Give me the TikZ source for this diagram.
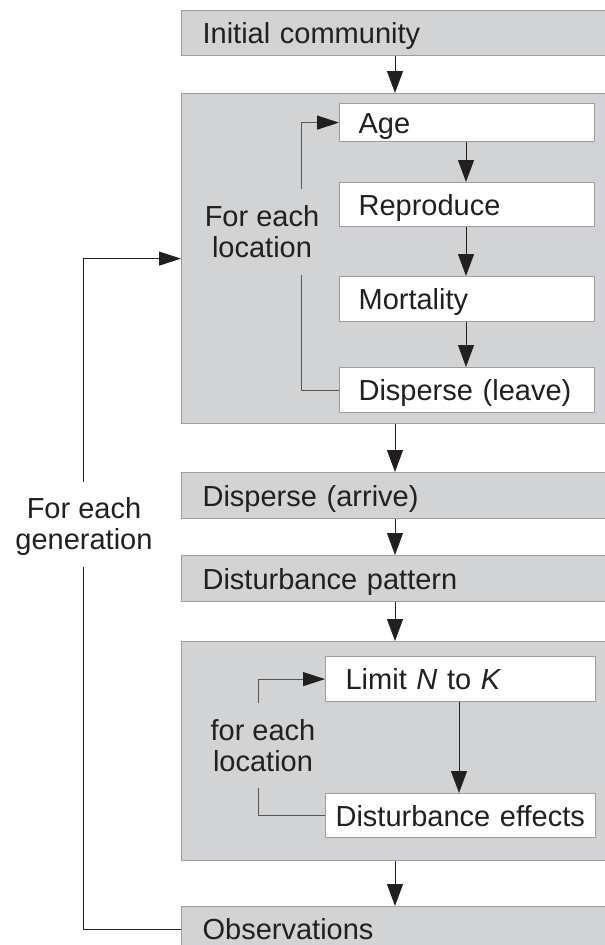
\documentclass[tikz,border=0pt]{standalone}
\usepackage{fontspec}
\setmainfont{Liberation Sans}
\usetikzlibrary{arrows.meta}
\definecolor{boxgray}{RGB}{209,211,212}
\definecolor{boxline}{RGB}{155,157,160}
\definecolor{lineink}{RGB}{35,31,32}
\definecolor{loopink}{RGB}{85,85,85}
\begin{document}
\begin{tikzpicture}[x=1pt,y=-1pt,font=\fontsize{29}{31}\selectfont,
  gbox/.style={draw=boxline, fill=boxgray, line width=1.2pt, anchor=north west, minimum height=45pt,
    text height=21pt, text depth=0pt, inner ysep=0pt, inner xsep=21pt, text width=398pt, align=left, text=lineink},
  wbox/.style={draw=boxline, fill=white, line width=1.2pt, anchor=north west, minimum height=45pt,
    text height=21pt, text depth=0pt, inner ysep=0pt, inner xsep=19pt, text width=217pt, align=left, text=lineink},
  bigbox/.style={draw=boxline, fill=boxgray, line width=1.2pt, anchor=north west, minimum width=440pt, inner sep=0pt},
  arr/.style={-{Triangle[length=22pt,width=16pt]}, line width=1pt, draw=lineink},
  looparr/.style={-{Triangle[length=22pt,width=14pt,color=lineink]}, line width=1pt, draw=loopink},
  loopline/.style={line width=1pt, draw=loopink},
  outerline/.style={line width=1pt, draw=lineink},
  outerarr/.style={-{Triangle[length=22pt,width=14pt]}, line width=1pt, draw=lineink},
  lbl/.style={align=center, inner sep=0pt, text=lineink}
]
\useasboundingbox (0,0) rectangle (605,945);
\clip (0,0) rectangle (605,945);
\fill[white] (0,0) rectangle (605,945);

% outer boxes
\node[gbox] (ic) at (181,10) {Initial community};
\node[bigbox, minimum height=330pt] (big1) at (181,93) {};
\node[gbox, minimum height=46pt] (da) at (181,472) {Disperse (arrive)};
\node[gbox, minimum height=46pt] (dp) at (181,555) {Disturbance pattern};
\node[bigbox, minimum height=219pt] (big2) at (181,641) {};
\node[gbox] (obs) at (181,906) {Observations};

% inner boxes, first block
\node[wbox, minimum height=38pt] (age) at (339,103) {Age};
\node[wbox, minimum height=44pt] (rep) at (339,182) {Reproduce};
\node[wbox] (mort) at (339,276) {Mortality};
\node[wbox] (dl) at (339,367) {Disperse (leave)};

% inner boxes, second block
\node[wbox, inner xsep=20pt, text width=230pt] (lim) at (325,656) {Limit \textit{N} to \textit{K}};
\node[wbox, minimum height=44pt, inner xsep=10pt, text width=250pt] (de) at (325,793) {Disturbance effects};

% labels
\node[lbl] (loc1) at (262,232) {For each\\location};
\node[lbl] (loc2) at (263,746) {for each\\location};
\node[lbl] (gen) at (84,526) {For each\\generation};

% main flow
\coordinate (cx) at (395,0);
\draw[arr] (cx |- ic.south) -- (cx |- big1.north);
\draw[arr] (cx |- big1.south) -- (cx |- da.north);
\draw[arr] (cx |- da.south) -- (cx |- dp.north);
\draw[arr] (cx |- dp.south) -- (cx |- big2.north);
\draw[arr] (cx |- big2.south) -- (cx |- obs.north);

% first inner chain
\coordinate (ix) at (466,0);
\draw[arr] (ix |- age.south) -- (ix |- rep.north);
\draw[arr] (ix |- rep.south) -- (ix |- mort.north);
\draw[arr] (ix |- mort.south) -- (ix |- dl.north);

% second inner chain
\coordinate (jx) at (459,0);
\draw[arr] (jx |- lim.south) -- (jx |- de.north);

% location loop 1
\coordinate (l1top) at (301,189);
\coordinate (l1bot) at (301,275);
\draw[loopline] (dl.west) -| (l1bot);
\draw[looparr] (l1top) |- (age.west);

% location loop 2
\coordinate (l2top) at (258,703);
\coordinate (l2bot) at (258,788);
\draw[loopline] (de.west) -| (l2bot);
\draw[looparr] (l2top) |- (lim.west);

% generation loop
\coordinate (gtop) at (83,482);
\coordinate (gbot) at (83,567);
\draw[outerline] (obs.west) -| (gbot);
\draw[outerarr] (gtop) |- (big1.west);
\end{tikzpicture}
\end{document}
